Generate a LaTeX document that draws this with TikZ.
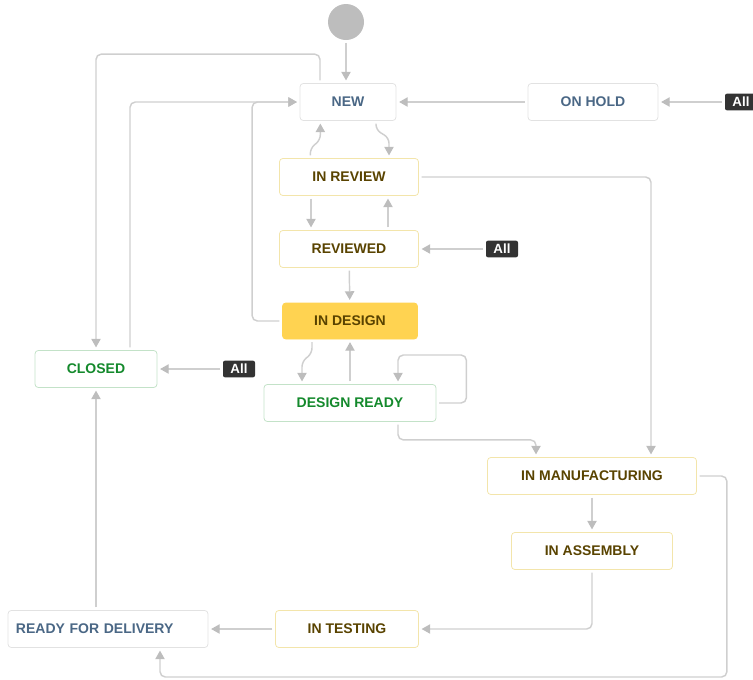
\documentclass[tikz,border=0pt]{standalone}
\usepackage{fontspec}
\setmainfont{Liberation Sans}
\usetikzlibrary{positioning,arrows.meta}
\definecolor{lineg}{HTML}{CFCFCF}
\definecolor{tipg}{HTML}{BDBDBD}
\definecolor{bluet}{HTML}{4A6785}
\definecolor{brownt}{HTML}{594300}
\definecolor{greent}{HTML}{14892C}
\definecolor{yelb}{HTML}{F3E5AB}
\definecolor{greenb}{HTML}{C3E2C8}
\definecolor{grayb}{HTML}{E2E2E2}
\definecolor{ydesign}{HTML}{FFD351}
\definecolor{badge}{HTML}{333333}

\begin{document}
\begin{tikzpicture}[x=0.75pt,y=-0.75pt,
state/.style={draw,rounded corners=2.5pt,line width=0.6pt,minimum height=27.75pt,inner sep=0pt,
    font=\fontsize{10.5}{12}\selectfont\bfseries},
newst/.style={state,draw=grayb,text=bluet},
progst/.style={state,draw=yelb,text=brownt},
donest/.style={state,draw=greenb,text=greent},
allbadge/.style={fill=badge,text=white,rounded corners=1.5pt,minimum height=12.5pt,minimum width=24pt,inner xsep=3pt,inner ysep=0pt,
    font=\fontsize{10}{11}\selectfont\bfseries},
trans/.style={draw=lineg,line width=1.1pt,rounded corners=4pt,shorten >=2pt,shorten <=2pt,
    -{Triangle[length=6.5pt,width=7pt,color=tipg]}}]
\useasboundingbox (0,0) rectangle (753,679);

\node (start) [circle,fill=tipg,minimum size=27pt,inner sep=0pt] at (346,22) {};
\node (new) [newst,minimum width=72pt] at (348,102) {NEW};
\node (onhold) [newst,minimum width=97.5pt] at (593,102) {ON HOLD};
\node (allhold) [allbadge] at (741,102) {All};
\node (review) [progst,minimum width=104.25pt] at (349,177) {IN REVIEW};
\node (reviewed) [progst,minimum width=104.25pt] at (349,249) {REVIEWED};
\node (allrev) [allbadge] at (502,249) {All};
\node (design) [state,fill=ydesign,draw=ydesign,text=brownt,minimum width=101.25pt,minimum height=27pt] at (350,321) {IN DESIGN};
\node (closed) [donest,minimum width=91.5pt] at (96,369) {CLOSED};
\node (allclosed) [allbadge] at (239,369) {All};
\node (dready) [donest,minimum width=129pt] at (350,403) {DESIGN READY};
\node (manuf) [progst,minimum width=156.75pt] at (592,476) {IN MANUFACTURING};
\node (assembly) [progst,minimum width=120.75pt] at (592,551) {IN ASSEMBLY};
\node (testing) [progst,minimum width=107.25pt] at (347,629) {IN TESTING};
\node (delivery) [newst,text width=138pt,align=left,inner xsep=6pt] at (108,629) {READY FOR DELIVERY};

% entry and hold
\draw[trans] (start.south) -- (start.south |- new.north);
\draw[trans] (onhold) -- (new);
\draw[trans] (allhold) -- (onhold);

% review loop
\draw[trans] ([xshift=21pt]new.south) -- ++(0,9) -- ++(13,8) coordinate (c1) -- (c1 |- review.north);
\draw[trans] ([xshift=-29pt]review.north) -- ++(0,-10) -- ++(10,-8) coordinate (c2) -- (c2 |- new.south);
\draw[trans] ([xshift=-28.5pt]review.south) -- ([xshift=-28.5pt]reviewed.north);
\draw[trans] ([xshift=29.25pt]reviewed.north) -- ([xshift=29.25pt]review.south);
\draw[trans] (allrev) -- (reviewed);
\draw[trans] (reviewed) -- (design);

% back to new, closed
\draw[trans] (design.west) -- ++(-30,0) |- (new.west);
\draw[trans] ([xshift=25.5pt]closed.north) |- (new.west);
\draw[trans] ([xshift=-21pt]new.north) -- ++(0,-29) -| (closed.north);
\draw[trans] (allclosed) -- (closed);

% design
\draw[trans] ([xshift=-28.5pt]design.south) -- ++(0,14) -- ++(-10,8) coordinate (c3) -- (c3 |- dready.north);
\draw[trans] (dready.north) -- (design.south);
\draw[trans] (dready.east) -- ++(30,0) -- ++(0,-48) -| ([xshift=36pt]dready.north);
\draw[trans] ([xshift=36pt]dready.south) -- ++(0,18) -| ([xshift=-42pt]manuf.north);
\draw[trans] (review.east) -| ([xshift=44.25pt]manuf.north);

% production
\draw[trans] (manuf) -- (assembly);
\draw[trans] (assembly.south) |- (testing.east);
\draw[trans] (testing) -- (delivery);
\draw[trans] (manuf.east) -- ++(30,0) -- ++(0,201) -| ([xshift=39pt]delivery.south);
\draw[trans] ([xshift=-9pt]delivery.north) -- (closed.south);
\end{tikzpicture}
\end{document}
